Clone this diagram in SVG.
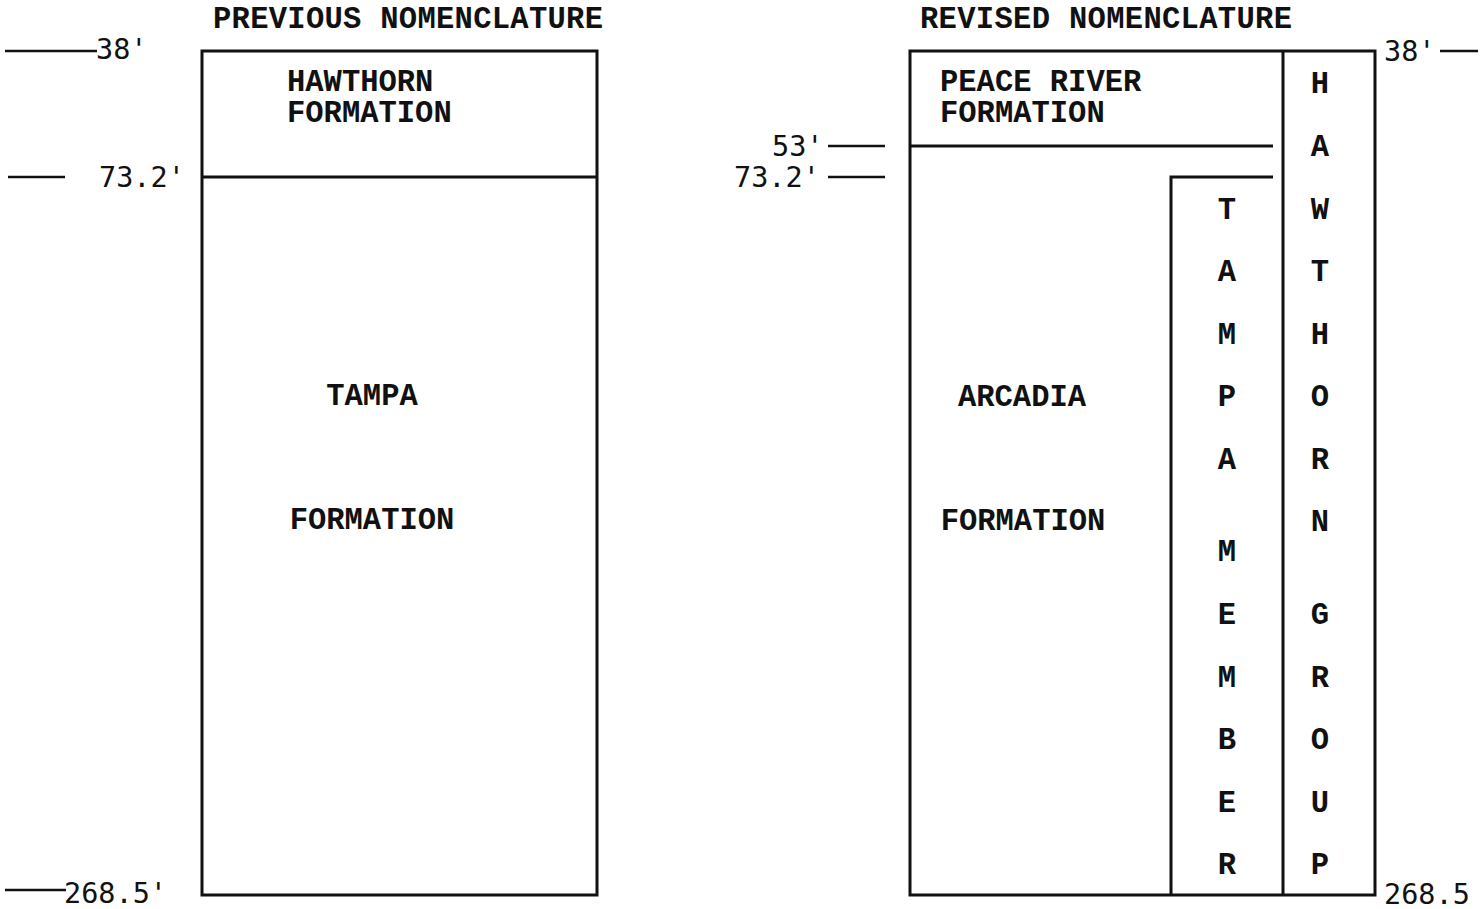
<svg xmlns="http://www.w3.org/2000/svg" width="1483" height="909" viewBox="0 0 1483 909">
<style>
.t{font-family:"Liberation Mono","Courier New",monospace;font-weight:bold;font-size:30.5px;fill:#111}
.c{text-anchor:middle}
.d{font-family:"DejaVu Sans Mono","Liberation Mono",monospace;font-size:28.5px;fill:#111}
.b{fill:none;stroke:#111;stroke-width:3}
.l{stroke:#111;stroke-width:2.5}
</style>
<rect width="1483" height="909" fill="#fff"/>
<g id="titles">
<text class="t" x="213" y="28" textLength="390">PREVIOUS NOMENCLATURE</text>
<text class="t" x="920" y="28" textLength="372">REVISED NOMENCLATURE</text>
</g>
<g id="previous">
<rect class="b" x="202" y="51" width="395" height="844"/>
<line class="b" x1="202" y1="177" x2="597" y2="177"/>
<text class="t" x="287" y="91">HAWTHORN</text>
<text class="t" x="287" y="122">FORMATION</text>
<text class="t c" x="372" y="405">TAMPA</text>
<text class="t c" x="372" y="529">FORMATION</text>
</g>
<g id="revised">
<rect class="b" x="910" y="51" width="465" height="844"/>
<line class="b" x1="1283" y1="51" x2="1283" y2="895"/>
<line class="b" x1="910" y1="146" x2="1273" y2="146"/>
<polyline class="b" points="1171,895 1171,177 1273,177"/>
<text class="t" x="940" y="91">PEACE RIVER</text>
<text class="t" x="940" y="122">FORMATION</text>
<text class="t c" x="1022" y="406">ARCADIA</text>
<text class="t c" x="1023" y="530">FORMATION</text>
</g>
<g id="tampa-member">
<text class="t c" x="1227" y="219">T</text>
<text class="t c" x="1227" y="281">A</text>
<text class="t c" x="1227" y="344">M</text>
<text class="t c" x="1227" y="406">P</text>
<text class="t c" x="1227" y="469">A</text>
<text class="t c" x="1227" y="561">M</text>
<text class="t c" x="1227" y="624">E</text>
<text class="t c" x="1227" y="687">M</text>
<text class="t c" x="1227" y="749">B</text>
<text class="t c" x="1227" y="812">E</text>
<text class="t c" x="1227" y="874">R</text>
</g>
<g id="hawthorn-group">
<text class="t c" x="1320" y="93">H</text>
<text class="t c" x="1320" y="156">A</text>
<text class="t c" x="1320" y="219">W</text>
<text class="t c" x="1320" y="281">T</text>
<text class="t c" x="1320" y="344">H</text>
<text class="t c" x="1320" y="406">O</text>
<text class="t c" x="1320" y="469">R</text>
<text class="t c" x="1320" y="531">N</text>
<text class="t c" x="1320" y="624">G</text>
<text class="t c" x="1320" y="687">R</text>
<text class="t c" x="1320" y="749">O</text>
<text class="t c" x="1320" y="812">U</text>
<text class="t c" x="1320" y="874">P</text>
</g>
<g id="depth-marks">
<line class="l" x1="5" y1="51" x2="97" y2="51"/>
<text class="d" x="96" y="59">38'</text>
<line class="l" x1="8" y1="177" x2="65" y2="177"/>
<text class="d" x="99" y="187">73.2'</text>
<line class="l" x1="5" y1="890" x2="66" y2="890"/>
<text class="d" x="64" y="903">268.5'</text>
<text class="d" x="772" y="156">53'</text>
<line class="l" x1="828" y1="146" x2="885" y2="146"/>
<text class="d" x="734" y="187">73.2'</text>
<line class="l" x1="828" y1="177" x2="885" y2="177"/>
<text class="d" x="1384" y="61">38'</text>
<line class="l" x1="1440" y1="51" x2="1478" y2="51"/>
<text class="d" x="1384" y="904">268.5</text>
</g>
</svg>
